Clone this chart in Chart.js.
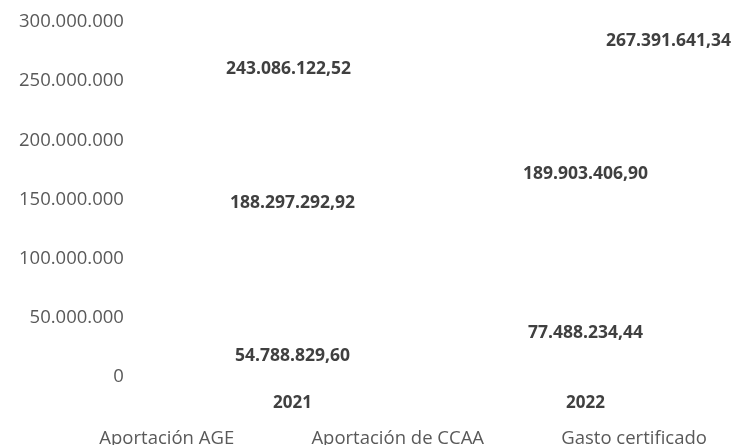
<!DOCTYPE html>
<html>
<head>
<meta charset="utf-8">
<script src="https://cdn.jsdelivr.net/npm/chart.js@4/dist/chart.umd.min.js"></script>
<style>
    html, body { margin: 0; padding: 0; background: #ffffff; }
    #contenedor { width: 736px; height: 445px; position: relative; }
</style>
</head>
<body>
<div id="contenedor"><canvas id="grafico"></canvas></div>
<script>
const anios = ["2021", "2022"];
const aportacionAGE = [54788829.60, 77488234.44];
const aportacionCCAA = [188297292.92, 189903406.90];
const gastoCertificado = [243086122.52, 267391641.34];
const ticksEje = [0, 50000000, 100000000, 150000000, 200000000, 250000000, 300000000];

const fuente = "'Open Sans', 'Liberation Sans', sans-serif";

// formato español: 243.086.122,52
const formatoEs = (v, dec) => {
    const partes = v.toFixed(dec).split(".");
    const entero = partes[0].replace(/\B(?=(\d{3})+(?!\d))/g, ".");
    return dec ? entero + "," + partes[1] : entero;
};

// las barras del original no tienen relleno, solo se ven las etiquetas
const etiquetasDatos = {
    id: "etiquetasDatos",
    afterDatasetsDraw(chart, args, opts) {
        const ctx = chart.ctx;
        ctx.save();
        ctx.font = "bold 17.5px " + fuente;
        ctx.fillStyle = "#404040";
        ctx.textAlign = "center";
        ctx.textBaseline = "middle";
        chart.data.datasets.forEach((ds, i) => {
            const meta = chart.getDatasetMeta(i);
            meta.data.forEach((el, j) => {
                const ajuste = (opts.ajustes[i] && opts.ajustes[i][j]) || [0, 0];
                let y = el.y;
                if (meta.type === "bar") y = (el.y + el.base) / 2;
                ctx.fillText(formatoEs(ds.data[j], 2), el.x + ajuste[0], y + ajuste[1]);
            });
        });
        ctx.restore();
    }
};

const ctx = document.getElementById("grafico").getContext("2d");
new Chart(ctx, {
    type: "bar",
    data: {
        labels: anios,
        datasets: [
            { label: "Aportación AGE", data: aportacionAGE, backgroundColor: "rgba(0,0,0,0)", stack: "aport" },
            { label: "Aportación de CCAA", data: aportacionCCAA, backgroundColor: "rgba(0,0,0,0)", stack: "aport" },
            { label: "Gasto certificado", data: gastoCertificado, type: "line", stack: "gasto",
              borderColor: "rgba(0,0,0,0)", backgroundColor: "rgba(0,0,0,0)", pointRadius: 0, showLine: false }
        ]
    },
    options: {
        responsive: true,
        maintainAspectRatio: false,
        animation: false,
        layout: { padding: { left: 5, right: 4, top: 22, bottom: -13 } },
        plugins: {
            tooltip: { enabled: false },
            legend: {
                position: "bottom",
                labels: {
                    // caja invisible delante de cada texto, como la leyenda del original
                    boxWidth: 60,
                    boxHeight: 1,
                    padding: 8,
                    color: "#595959",
                    font: { family: fuente, size: 18.5 },
                    generateLabels(chart) {
                        return chart.data.datasets.map((ds, i) => ({
                            text: ds.label, fillStyle: "rgba(0,0,0,0)", strokeStyle: "rgba(0,0,0,0)",
                            lineWidth: 0, fontColor: "#595959", datasetIndex: i
                        }));
                    }
                }
            },
            etiquetasDatos: {
                ajustes: {
                    0: [[0, 11], [0, 2]],
                    1: [[0, 2], [0, 1]],
                    2: [[-4, -20], [83, -20]]
                }
            }
        },
        scales: {
            x: {
                stacked: true,
                grid: { display: false },
                border: { display: false },
                ticks: { color: "#404040", font: { family: fuente, size: 17, weight: "bold" }, padding: 8 }
            },
            y: {
                stacked: true,
                min: 0,
                max: 300000000,
                grid: { display: false },
                border: { display: false },
                afterBuildTicks(axis) { axis.ticks = ticksEje.map(v => ({ value: v })); },
                afterFit(axis) { axis.paddingTop = 0; },
                ticks: {
                    color: "#595959",
                    font: { family: fuente, size: 18.5 },
                    padding: 14,
                    callback: v => formatoEs(v, 0)
                }
            }
        }
    },
    plugins: [etiquetasDatos]
});
</script>
</body>
</html>
